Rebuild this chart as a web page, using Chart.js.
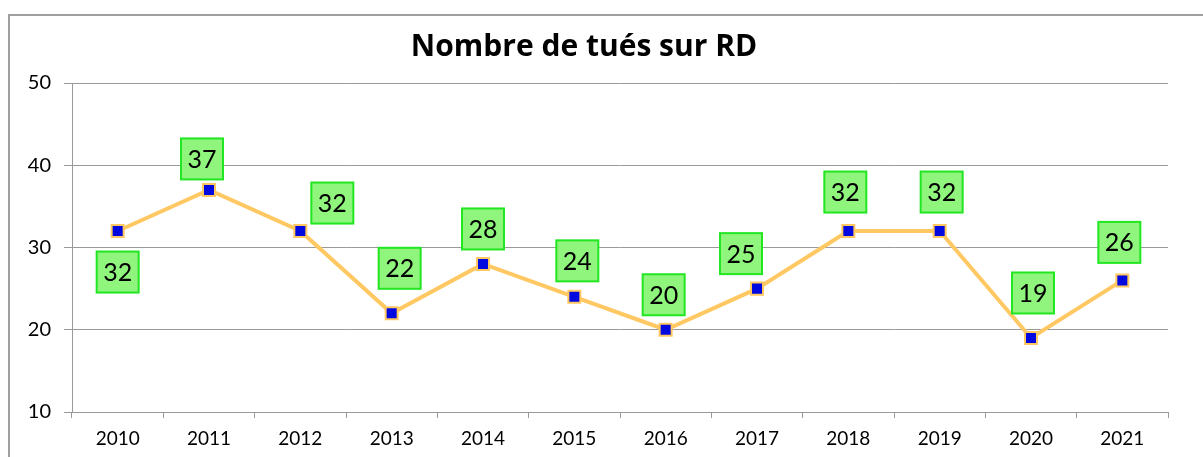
<!DOCTYPE html>
<html>
<head>
<meta charset="utf-8">
<script src="https://cdn.jsdelivr.net/npm/chart.js@4.4.1/dist/chart.umd.min.js"></script>
<style>
  html, body { margin: 0; padding: 0; background: #fff; }
  #wrap { width: 1203px; height: 457px; }
</style>
</head>
<body>
<div id="wrap"><canvas id="chart" width="1203" height="457"></canvas></div>
<script>
// Data
const years = ['2010', '2011', '2012', '2013', '2014', '2015', '2016', '2017', '2018', '2019', '2020', '2021'];
const killed = [32, 37, 32, 22, 28, 24, 20, 25, 32, 32, 19, 26];
const yTicks = [10, 20, 30, 40, 50];

// Where each value box sits relative to its point (pixels)
const labelOffsets = [
    [0, 41], [-7, -31], [32, -28], [8, -45], [0, -35], [3, -36],
    [-2, -35], [-16, -35], [-3, -39], [2, -39], [2, -45], [-3, -38]
];

// Grey frame around the whole chart (runs off the right and bottom edges)
const framePlugin = {
    id: 'frame',
    beforeDraw(chart) {
        const ctx = chart.ctx;
        ctx.save();
        ctx.strokeStyle = '#a0a0a0';
        ctx.lineWidth = 2;
        ctx.strokeRect(9, 15, 1400, 600);
        ctx.restore();
    }
};

// Green boxed value labels
const boxLabels = {
    id: 'boxLabels',
    afterDatasetsDraw(chart) {
        const ctx = chart.ctx;
        const meta = chart.getDatasetMeta(0);
        ctx.save();
        ctx.font = '25px Lato';
        ctx.textAlign = 'center';
        ctx.textBaseline = 'middle';
        meta.data.forEach((pt, i) => {
            const [dx, dy] = labelOffsets[i];
            const cx = pt.x + dx, cy = pt.y + dy;
            const w = 42, h = 41;
            ctx.fillStyle = '#8ff57c';
            ctx.fillRect(cx - w / 2, cy - h / 2, w, h);
            ctx.strokeStyle = '#22e622';
            ctx.lineWidth = 2;
            ctx.strokeRect(cx - w / 2, cy - h / 2, w, h);
            ctx.fillStyle = '#000';
            ctx.fillText(String(killed[i]), cx, cy + 1);
        });
        ctx.restore();
    }
};

new Chart(document.getElementById('chart'), {
    type: 'line',
    data: {
        labels: years,
        datasets: [{
            label: 'Tués',
            data: killed,
            borderColor: '#ffc862',
            borderWidth: 4,
            tension: 0,
            pointStyle: 'rect',
            pointRadius: 8.5,
            pointHoverRadius: 8.5,
            pointBackgroundColor: '#0008e0',
            pointBorderColor: '#ffc862',
            pointBorderWidth: 2
        }]
    },
    options: {
        responsive: false,
        animation: false,
        layout: { padding: { left: 0, right: 35, top: 0, bottom: 0 } },
        plugins: {
            legend: { display: false },
            tooltip: { enabled: false },
            title: {
                display: true,
                text: 'Nombre de tués sur RD',
                color: '#000',
                font: { family: 'Open Sans', size: 30, weight: 'bold', lineHeight: 1.2 },
                padding: { top: 29, bottom: 18 }
            }
        },
        scales: {
            x: {
                offset: true,
                grid: { drawOnChartArea: false, offset: true, tickLength: 6, color: '#9a9a9a' },
                border: { color: '#9a9a9a' },
                ticks: { color: '#000', font: { family: 'Lato', size: 19 }, padding: 9, maxRotation: 0 },
                afterFit(scale) { scale.height = 45; }
            },
            y: {
                min: 10,
                max: 50,
                afterBuildTicks(scale) { scale.ticks = yTicks.map(v => ({ value: v })); },
                grid: { color: '#9a9a9a', tickLength: 8 },
                border: { color: '#9a9a9a' },
                ticks: { color: '#000', font: { family: 'Lato', size: 20 }, padding: 13 },
                afterFit(scale) { scale.width = 72; }
            }
        }
    },
    plugins: [framePlugin, boxLabels]
});
</script>
</body>
</html>
